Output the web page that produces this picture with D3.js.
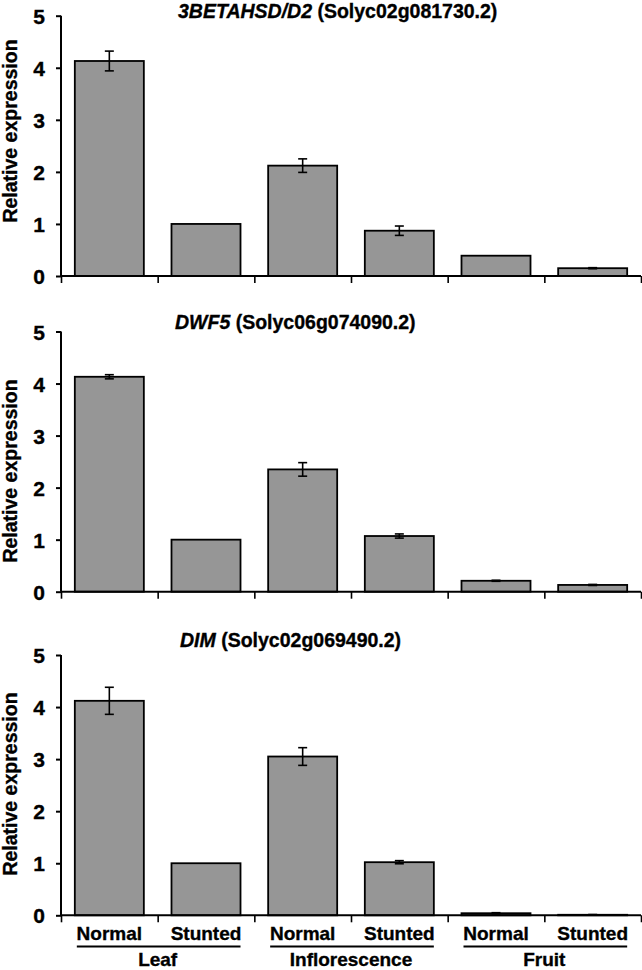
<!DOCTYPE html>
<html>
<head>
<meta charset="utf-8">
<script src="https://cdn.jsdelivr.net/npm/d3@7"></script>
<style>
  html, body { margin: 0; padding: 0; background: #fff; }
  svg { display: block; }
  text { font-family: "Liberation Sans", Arial, Helvetica, sans-serif; font-weight: bold; fill: #000; stroke: #000; stroke-width: 0.35px; }
</style>
</head>
<body>
<svg id="chart" width="642" height="970"></svg>
<script>
// ---- data ----
const tissues = ["Leaf", "Inflorescence", "Fruit"];
const conditions = ["Normal", "Stunted"];
const yTicks = [0, 1, 2, 3, 4, 5];

const geneNames = ["3BETAHSD/D2", "DWF5", "DIM"];
const geneIds = ["(Solyc02g081730.2)", "(Solyc06g074090.2)", "(Solyc02g069490.2)"];

// order: Leaf-Normal, Leaf-Stunted, Infl-Normal, Infl-Stunted, Fruit-Normal, Fruit-Stunted
const betahsdMeans = [4.13, 1.00, 2.12, 0.87, 0.39, 0.15];
const betahsdErr   = [0.19, 0.00, 0.13, 0.09, 0.00, 0.01];
const dwf5Means    = [4.13, 1.00, 2.35, 1.07, 0.21, 0.13];
const dwf5Err      = [0.04, 0.00, 0.13, 0.04, 0.01, 0.01];
const dimMeans     = [4.12, 1.00, 3.05, 1.02, 0.04, 0.01];
const dimErr       = [0.26, 0.00, 0.17, 0.03, 0.01, 0.005];

const seriesMeans = [betahsdMeans, dwf5Means, dimMeans];
const seriesErr = [betahsdErr, dwf5Err, dimErr];

// ---- layout ----
const xLeft = 61, xRight = 641;
const panels = [
  { top: 15.7, bottom: 276,   titleX: 178, titleY: 17.5, labelY: 131 },
  { top: 331.5, bottom: 591.7, titleX: 175, titleY: 329, labelY: 471 },
  { top: 655, bottom: 915.3,  titleX: 180, titleY: 647, labelY: 784 }
];

const keys = [];
tissues.forEach(t => conditions.forEach(c => keys.push(t + "|" + c)));

const svg = d3.select("#chart");

const x = d3.scaleBand()
  .domain(keys)
  .range([xLeft, xRight])
  .paddingInner(0.286)
  .paddingOuter(0.143);

panels.forEach((p, pi) => {
  const g = svg.append("g");
  const y = d3.scaleLinear().domain([0, 5]).range([p.bottom, p.top]);
  const data = keys.map((k, i) => ({ key: k, mean: seriesMeans[pi][i], err: seriesErr[pi][i] }));

  // bars
  g.selectAll("rect.bar").data(data).join("rect")
    .attr("class", "bar")
    .attr("x", d => x(d.key))
    .attr("width", x.bandwidth())
    .attr("y", d => y(d.mean))
    .attr("height", d => y(0) - y(d.mean))
    .attr("fill", "#969696")
    .attr("stroke", "#000")
    .attr("stroke-width", 1.8);

  // error bars
  const eb = g.selectAll("g.err").data(data.filter(d => d.err > 0)).join("g").attr("class", "err");
  const cx = d => x(d.key) + x.bandwidth() / 2;
  eb.append("line")
    .attr("x1", cx).attr("x2", cx)
    .attr("y1", d => y(d.mean + d.err)).attr("y2", d => y(d.mean - d.err))
    .attr("stroke", "#000").attr("stroke-width", 1.6);
  eb.append("line")
    .attr("x1", d => cx(d) - 4.5).attr("x2", d => cx(d) + 4.5)
    .attr("y1", d => y(d.mean + d.err)).attr("y2", d => y(d.mean + d.err))
    .attr("stroke", "#000").attr("stroke-width", 1.6);
  eb.append("line")
    .attr("x1", d => cx(d) - 4.5).attr("x2", d => cx(d) + 4.5)
    .attr("y1", d => y(d.mean - d.err)).attr("y2", d => y(d.mean - d.err))
    .attr("stroke", "#000").attr("stroke-width", 1.6);

  // y axis
  const yAxis = d3.axisLeft(y).tickValues(yTicks).tickFormat(d3.format("d"))
    .tickSize(5).tickPadding(11);
  const ya = g.append("g").attr("transform", `translate(${xLeft},0)`).call(yAxis);
  ya.select(".domain").attr("d", `M0,${p.top}V${p.bottom}`).attr("stroke", "#000").attr("stroke-width", 2);
  ya.selectAll(".tick line").attr("stroke", "#000").attr("stroke-width", 2);
  ya.selectAll(".tick text").attr("font-size", 21).attr("font-family", null).attr("dy", "0.36em");

  // x axis (baseline with ticks at band boundaries)
  const xs = d3.scaleLinear().domain([0, keys.length]).range([xLeft, xRight]);
  const xAxis = d3.axisBottom(xs).tickValues(d3.range(keys.length + 1)).tickSize(7).tickFormat("");
  const xa = g.append("g").attr("transform", `translate(0,${p.bottom})`).call(xAxis);
  xa.select(".domain").attr("d", `M${xLeft},0H${xRight}`).attr("stroke", "#000").attr("stroke-width", 2);
  xa.selectAll(".tick line").attr("stroke", "#000").attr("stroke-width", 1.6);

  // title
  const t = g.append("text").attr("x", p.titleX).attr("y", p.titleY).attr("font-size", 19.5);
  t.append("tspan").attr("font-style", "italic").text(geneNames[pi]);
  t.append("tspan").text(" " + geneIds[pi]);

  // y label
  g.append("text")
    .attr("transform", `translate(17,${p.labelY}) rotate(-90)`)
    .attr("text-anchor", "middle")
    .attr("font-size", 19.5)
    .text("Relative expression");

  // category labels on bottom panel
  if (pi === panels.length - 1) {
    g.selectAll("text.cond").data(data).join("text")
      .attr("class", "cond")
      .attr("x", d => x(d.key) + x.bandwidth() / 2)
      .attr("y", 940)
      .attr("text-anchor", "middle")
      .attr("font-size", 19)
      .text(d => d.key.split("|")[1]);

    tissues.forEach((tname) => {
      const k0 = tname + "|" + conditions[0];
      const k1 = tname + "|" + conditions[1];
      const x0 = x(k0) + 2, x1 = x(k1) + x.bandwidth();
      g.append("line")
        .attr("x1", x0).attr("x2", x1)
        .attr("y1", 946.5).attr("y2", 946.5)
        .attr("stroke", "#000").attr("stroke-width", 2);
      g.append("text")
        .attr("x", (x(k0) + x(k1) + x.bandwidth()) / 2)
        .attr("y", 966)
        .attr("text-anchor", "middle")
        .attr("font-size", 19)
        .text(tname);
    });
  }
});
</script>
</body>
</html>
